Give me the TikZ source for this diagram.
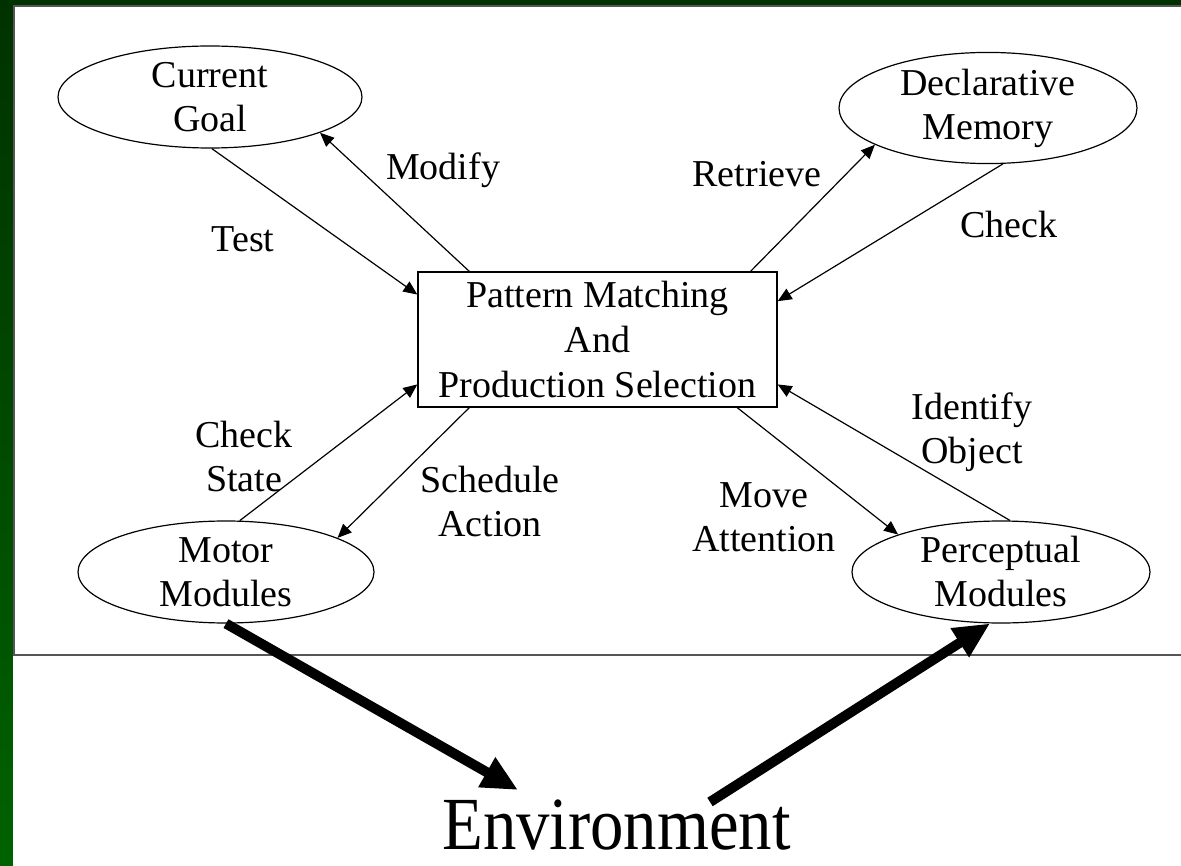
\documentclass[tikz,border=0pt]{standalone}
\usepackage{fontspec}
\setmainfont{Liberation Serif}
\usetikzlibrary{arrows.meta,shapes.geometric}
\definecolor{slidegreentop}{RGB}{0,50,0}
\definecolor{slidegreenbot}{RGB}{0,98,0}
\definecolor{framegray}{RGB}{85,85,85}

\begin{document}
\begin{tikzpicture}[x=1pt,y=-1pt,
  every node/.style={inner sep=0pt},
  txt/.style={font=\fontsize{38}{44}\selectfont, align=center},
  oval/.style={txt, ellipse, draw, line width=1.2pt, fill=white, minimum height=102pt},
  procbox/.style={txt, draw, line width=1.3pt, fill=white, minimum width=359pt,
                  minimum height=135pt, font=\fontsize{38}{45}\selectfont},
  conn/.style={-{Triangle[length=14pt,width=12pt]}, line width=1.2pt},
  bigarrow/.style={-{Triangle[length=36pt,width=32pt]}, line width=10pt}
]
\useasboundingbox (0,0) rectangle (1181,866);

% slide background and frame
\shade[top color=slidegreentop, bottom color=slidegreenbot] (0,0) rectangle (1181,866);
\fill[white] (13,5) rectangle (1181,866);
\draw[framegray, line width=1.8pt] (1181,6) -- (14,6) -- (14,655) -- (1181,655);

% modules
\node[oval, minimum width=304pt] (cg) at (210,97)   {Current\\Goal};
\node[oval, minimum width=298pt] (dm) at (988,108)  {Declarative\\Memory};
\node[oval, minimum width=296pt] (mm) at (226,572)  {Motor\\Modules};
\node[oval, minimum width=298pt] (pm) at (1001,572) {Perceptual\\Modules};
\node[procbox] (pms) at (597.5,339.5) {Pattern Matching\\And\\Production Selection};

% connector labels
\node[txt] (lmodify)   at (443,170)   {Modify};
\node[txt] (ltest)     at (243,239.5) {Test};
\node[txt] (lretrieve) at (757,174)   {Retrieve};
\node[txt] (lcheck)    at (1009,225)  {Check};
\node[txt] (lcheckst)  at (244,456.5) {Check\\State};
\node[txt] (lsched)    at (490,501.5) {Schedule\\Action};
\node[txt] (lmove)     at (764,517)   {Move\\Attention};
\node[txt] (lident)    at (972,432.5) {Identify\\Object};

% environment
\node[anchor=base, font=\fontsize{75}{80}\selectfont] (env) at (616.5,849)
  {\scalebox{0.89}[1]{Environment}};
\coordinate (envin)  at (518,790);
\coordinate (envout) at (710,802);

% connectors
\draw[conn] (cg.-88)   -- (pms.166);
\draw[conn] (pms.152)  -- (cg.-18);
\draw[conn] (pms.24)   -- (dm.-162);
\draw[conn] (dm.-75)   -- (pms.12);
\draw[conn] (mm.75)    -- (pms.-166);
\draw[conn] (pms.-152) -- (mm.17);
\draw[conn] (pms.-26)  -- (pm.160);
\draw[conn] (pm.80)    -- (pms.-14);

\draw[bigarrow] (mm.south) -- (envin);
\draw[bigarrow] (envout) -- (pm.-102);
\end{tikzpicture}
\end{document}
